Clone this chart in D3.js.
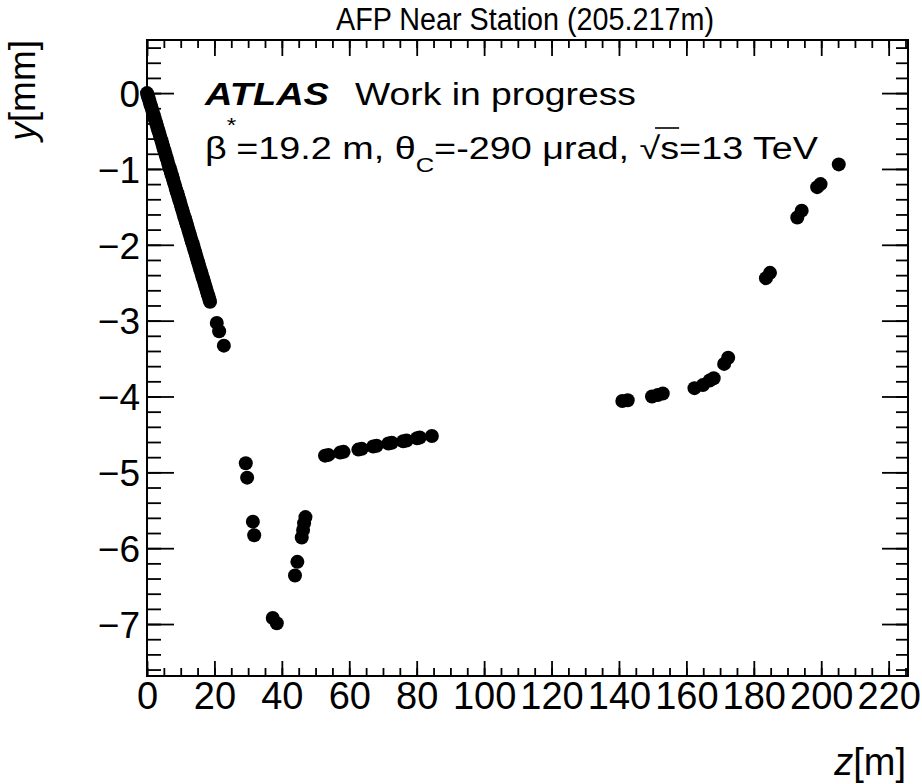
<!DOCTYPE html>
<html><head><meta charset="utf-8">
<script src="https://cdn.jsdelivr.net/npm/d3@7"></script>
<style>
body{margin:0;background:#fff}
svg{display:block}
text{font-family:"Liberation Sans", Arial, Helvetica, sans-serif; fill:#000}
</style>
</head><body><div id="chart"></div>
<script>
// ---- data ----
const zValues = [
  0, 0.25, 0.5, 0.75, 1, 1.25, 1.5, 1.75, 2, 2.25, 2.5, 2.75, 3, 3.25, 3.5, 3.75, 4, 4.25, 4.5, 4.75,
  5, 5.25, 5.5, 5.75, 6, 6.25, 6.5, 6.75, 7, 7.25, 7.5, 7.75, 8, 8.25, 8.5, 8.75, 9, 9.25, 9.5, 9.75,
  10, 10.25, 10.5, 10.75, 11, 11.25, 11.5, 11.75, 12, 12.25, 12.5, 12.75, 13, 13.25, 13.5, 13.75,
  14, 14.25, 14.5, 14.75, 15, 15.25, 15.5, 15.75, 16, 16.25, 16.5, 16.75, 17, 17.25, 17.5, 17.75,
  18, 18.25, 18.5, 18.7,
  20.7, 21.4, 22.8,
  29.3, 29.7, 31.4, 31.8, 37.3, 38.5, 43.9, 44.6, 45.9, 46.3, 46.6, 47.0,
  52.8, 53.8, 57.3, 58.3, 62.7, 63.7, 67.1, 68.1, 71.6, 72.6, 76.0, 77.0, 80.1, 80.9, 84.5,
  141.0, 142.6, 149.8, 151.5, 153.0,
  162.4, 164.9, 166.9, 168.1, 171.2, 172.4,
  183.6, 184.8, 192.9, 194.2, 198.8, 199.8, 205.2
];
const yValues = [
  0, -0.04, -0.07, -0.11, -0.15, -0.18, -0.22, -0.26, -0.29, -0.33, -0.37, -0.40, -0.44, -0.48, -0.51, -0.55, -0.59, -0.62, -0.66, -0.70,
  -0.74, -0.77, -0.81, -0.85, -0.88, -0.92, -0.96, -0.99, -1.03, -1.07, -1.10, -1.14, -1.18, -1.21, -1.25, -1.29, -1.32, -1.36, -1.40, -1.43,
  -1.47, -1.51, -1.54, -1.58, -1.62, -1.65, -1.69, -1.73, -1.76, -1.80, -1.84, -1.87, -1.91, -1.95, -1.98, -2.02,
  -2.06, -2.09, -2.13, -2.17, -2.21, -2.24, -2.28, -2.32, -2.35, -2.39, -2.43, -2.46, -2.50, -2.54, -2.57, -2.61,
  -2.65, -2.68, -2.72, -2.75,
  -3.03, -3.14, -3.33,
  -4.88, -5.07, -5.65, -5.83, -6.92, -6.99, -6.36, -6.18, -5.86, -5.76, -5.67, -5.59,
  -4.78, -4.77, -4.74, -4.73, -4.70, -4.69, -4.66, -4.65, -4.62, -4.61, -4.59, -4.58, -4.55, -4.54, -4.52,
  -4.06, -4.05, -4.00, -3.98, -3.96,
  -3.89, -3.85, -3.79, -3.76, -3.57, -3.49,
  -2.44, -2.37, -1.64, -1.55, -1.24, -1.20, -0.94
];
const xTickValues = [0, 20, 40, 60, 80, 100, 120, 140, 160, 180, 200, 220];
const yTickValues = [-7, -6, -5, -4, -3, -2, -1, 0];
const xDomain = [0, 225.74];
const yDomain = [-7.685, 0.70];
const titleText = "AFP Near Station (205.217m)";

// ---- layout ----
const W = 922, H = 784;
const fL = 147, fR = 908, fT = 40, fB = 676;

const svg = d3.select("#chart").append("svg").attr("width", W).attr("height", H);
svg.append("rect").attr("width", W).attr("height", H).attr("fill", "#fff");

const x = d3.scaleLinear().domain(xDomain).range([fL, fR]);
const y = d3.scaleLinear().domain(yDomain).range([fB, fT]);

const fmt = d3.format("d");
const minorX = d3.range(0, 226, 5);
const minorY = d3.range(-7.6, 0.71, 0.2).map(v => +v.toFixed(1));
const FONT = '"Liberation Sans", Arial, sans-serif';

function styleAxis(g) {
  g.select(".domain").remove();
  g.selectAll(".tick line").attr("stroke", "#000").attr("stroke-width", 1.8);
}

// bottom axis
const gB = svg.append("g").attr("transform", `translate(0,${fB})`)
  .call(d3.axisBottom(x).tickValues(xTickValues).tickSize(-15).tickFormat(fmt));
styleAxis(gB);
gB.selectAll("text").attr("y", 33).attr("dy", null)
  .attr("font-size", 38).attr("font-family", FONT).attr("fill", "#000");
const gBm = svg.append("g").attr("transform", `translate(0,${fB})`)
  .call(d3.axisBottom(x).tickValues(minorX).tickSize(-8).tickFormat(""));
styleAxis(gBm);

// top axis
const gT = svg.append("g").attr("transform", `translate(0,${fT})`)
  .call(d3.axisTop(x).tickValues(xTickValues).tickSize(-16).tickFormat(""));
styleAxis(gT);
const gTm = svg.append("g").attr("transform", `translate(0,${fT})`)
  .call(d3.axisTop(x).tickValues(minorX).tickSize(-8).tickFormat(""));
styleAxis(gTm);

// left axis
const gL = svg.append("g").attr("transform", `translate(${fL},0)`)
  .call(d3.axisLeft(y).tickValues(yTickValues).tickSize(-27).tickPadding(7).tickFormat(fmt));
styleAxis(gL);
gL.selectAll("text").attr("dy", "0.36em")
  .attr("font-size", 37).attr("font-family", FONT).attr("fill", "#000");
const gLm = svg.append("g").attr("transform", `translate(${fL},0)`)
  .call(d3.axisLeft(y).tickValues(minorY).tickSize(-14).tickFormat(""));
styleAxis(gLm);

// right axis
const gR = svg.append("g").attr("transform", `translate(${fR},0)`)
  .call(d3.axisRight(y).tickValues(yTickValues).tickSize(-26).tickFormat(""));
styleAxis(gR);
const gRm = svg.append("g").attr("transform", `translate(${fR},0)`)
  .call(d3.axisRight(y).tickValues(minorY).tickSize(-12).tickFormat(""));
styleAxis(gRm);

// frame
svg.append("rect").attr("x", fL).attr("y", fT).attr("width", fR - fL).attr("height", fB - fT)
  .attr("fill", "none").attr("stroke", "#000").attr("stroke-width", 2);

// points
const pts = zValues.map((z, i) => ({ z, y: yValues[i] }));
svg.append("g").selectAll("circle").data(pts).join("circle")
  .attr("cx", d => x(d.z)).attr("cy", d => y(d.y)).attr("r", 7).attr("fill", "#000");

// title
svg.append("text").attr("x", 336).attr("y", 30).attr("font-size", 31)
  .attr("textLength", 378).attr("lengthAdjust", "spacingAndGlyphs").text(titleText);

// axis titles
const xt = svg.append("text").attr("x", 906).attr("y", 775).attr("font-size", 38).attr("text-anchor", "end");
xt.append("tspan").attr("font-style", "italic").text("z");
xt.append("tspan").text("[m]");
const yt = svg.append("text").attr("transform", "translate(35,40) rotate(-90)")
  .attr("text-anchor", "end").attr("font-size", 37);
yt.append("tspan").attr("font-style", "italic").text("y");
yt.append("tspan").text("[mm]");

// ATLAS label
svg.append("text").attr("x", 205).attr("y", 105).attr("font-size", 31)
  .attr("font-weight", "bold").attr("font-style", "italic")
  .attr("textLength", 124).attr("lengthAdjust", "spacingAndGlyphs").text("ATLAS");
svg.append("text").attr("x", 355).attr("y", 105).attr("font-size", 31)
  .attr("textLength", 281).attr("lengthAdjust", "spacingAndGlyphs").text("Work in progress");

// second line
const l2 = svg.append("text").attr("x", 205).attr("y", 159).attr("font-size", 31)
  .attr("textLength", 613).attr("lengthAdjust", "spacingAndGlyphs");
l2.append("tspan").text("\u03B2");
l2.append("tspan").attr("font-size", 20).attr("dy", -27).text("*");
l2.append("tspan").attr("dy", 27).text("=19.2 m, \u03B8");
l2.append("tspan").attr("font-size", 21).attr("dy", 13).text("C");
l2.append("tspan").attr("dy", -13).text("=-290 \u03BCrad, \u221As=13 TeV");

// overline for sqrt(s)
const node = l2.node();
const full = node.textContent;
const iRoot = full.indexOf("\u221A");
try {
  const eR = node.getExtentOfChar(iRoot);
  const eS = node.getExtentOfChar(iRoot + 1);
  svg.append("line")
    .attr("x1", eR.x + eR.width * 0.75).attr("x2", eS.x + eS.width)
    .attr("y1", 128).attr("y2", 128)
    .attr("stroke", "#000").attr("stroke-width", 1.6);
} catch (e) {}
</script>
</body></html>
